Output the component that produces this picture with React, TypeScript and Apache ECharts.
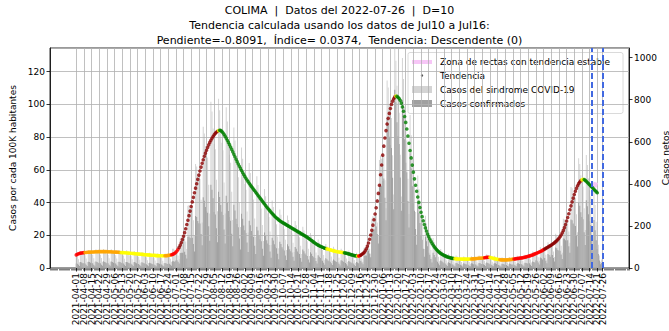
import { useEffect, useRef } from 'react';
import * as echarts from 'echarts';

const FONT = 'DejaVu Sans';
const START_UTC = Date.UTC(2021, 2, 8); // first category on the axis (24 days before 2021-04-01)
const DAYS_BEFORE = 24;
const N_CATEGORIES = 530;
const LAST_TICK_WEEKLY = 476;
const LAST_DAY = 481;

const TITLE_LINES = [
  'COLIMA  |  Datos del 2022-07-26  |  D=10',
  'Tendencia calculada usando los datos de Jul10 a Jul16:',
  'Pendiente=-0.8091,  Índice= 0.0374,  Tendencia: Descendente (0)',
];

const LEGEND_LABELS = [
  'Zona de rectas con tendencia estable',
  'Tendencia',
  'Casos del sindrome COVID-19',
  'Casos confirmados',
];

const LEFT_NAME = 'Casos por cada 100K habitantes';
const RIGHT_NAME = 'Casos netos';
const VLINE_DATES = ['2022-07-16', '2022-07-26'];

// Trend (cases per 100K), one value per day from 2021-04-01
const TREND = [
  8.0, 8.4, 8.7, 8.9, 9.1, 9.2, 9.3, 9.4, 9.5, 9.5,
  9.6, 9.6, 9.7, 9.7, 9.8, 9.8, 9.8, 9.9, 9.9, 9.9,
  10.0, 10.0, 10.0, 10.0, 10.0, 10.0, 10.0, 10.0, 10.0, 9.9,
  9.9, 9.9, 9.9, 9.8, 9.8, 9.8, 9.7, 9.7, 9.6, 9.6,
  9.5, 9.5, 9.4, 9.4, 9.3, 9.3, 9.2, 9.2, 9.1, 9.0,
  9.0, 8.9, 8.9, 8.8, 8.7, 8.7, 8.6, 8.5, 8.5, 8.4,
  8.3, 8.3, 8.2, 8.1, 8.1, 8.0, 8.0, 7.9, 7.9, 7.8,
  7.8, 7.7, 7.7, 7.6, 7.6, 7.6, 7.5, 7.5, 7.5, 7.5,
  7.5, 7.5, 7.6, 7.6, 7.7, 7.8, 7.9, 8.1, 8.3, 8.6,
  9.0, 9.6, 10.4, 11.4, 12.6, 14.0, 15.6, 17.4, 19.4, 21.6,
  24.0, 26.6, 29.2, 32.0, 34.8, 37.6, 40.4, 43.2, 46.0, 48.8,
  51.5, 54.2, 56.8, 59.3, 61.7, 64.0, 66.2, 68.3, 70.2, 72.0,
  73.7, 75.3, 76.8, 78.1, 79.3, 80.4, 81.4, 82.3, 83.0, 83.6,
  84.0, 84.2, 84.0, 83.5, 82.7, 81.7, 80.6, 79.4, 78.1, 76.8,
  75.4, 74.0, 72.5, 71.0, 69.5, 68.0, 66.5, 65.0, 63.6, 62.2,
  60.9, 59.6, 58.4, 57.2, 56.0, 54.9, 53.8, 52.8, 51.8, 50.8,
  49.9, 49.0, 48.1, 47.2, 46.3, 45.4, 44.5, 43.6, 42.7, 41.8,
  40.9, 40.0, 39.1, 38.2, 37.3, 36.5, 35.7, 34.9, 34.1, 33.3,
  32.6, 31.9, 31.2, 30.6, 30.0, 29.4, 28.9, 28.4, 28.0, 27.6,
  27.2, 26.8, 26.4, 26.0, 25.6, 25.2, 24.8, 24.4, 24.0, 23.6,
  23.2, 22.8, 22.4, 22.0, 21.6, 21.2, 20.8, 20.4, 20.0, 19.6,
  19.2, 18.8, 18.3, 17.8, 17.3, 16.8, 16.3, 15.8, 15.3, 14.8,
  14.4, 14.0, 13.6, 13.3, 13.0, 12.7, 12.4, 12.1, 11.9, 11.7,
  11.5, 11.3, 11.1, 10.9, 10.7, 10.5, 10.3, 10.2, 10.0, 9.9,
  9.8, 9.7, 9.6, 9.5, 9.4, 9.3, 9.1, 9.0, 8.8, 8.6,
  8.4, 8.2, 8.0, 7.8, 7.6, 7.5, 7.4, 7.3, 7.3, 7.5,
  7.9, 8.4, 8.9, 9.5, 10.5, 11.8, 13.4, 15.3, 17.6, 20.2,
  23.1, 26.2, 29.5, 33.0, 36.8, 41.0, 45.6, 50.6, 57.0, 63.0,
  69.0, 74.5, 79.5, 84.0, 88.0, 91.5, 94.5, 97.5, 100.0, 102.0,
  103.5, 104.6, 105.1, 104.9, 104.4, 103.6, 102.5, 100.8, 98.5, 95.8,
  92.6, 89.0, 85.0, 80.7, 76.3, 71.8, 67.3, 62.9, 58.6, 54.5,
  50.6, 46.9, 43.4, 40.1, 37.0, 34.1, 31.4, 28.9, 26.6, 24.5,
  22.6, 20.8, 19.2, 17.7, 16.4, 15.2, 14.1, 13.1, 12.2, 11.4,
  10.7, 10.0, 9.4, 8.9, 8.5, 8.1, 7.7, 7.4, 7.1, 6.8,
  6.6, 6.4, 6.2, 6.0, 5.9, 5.8, 5.7, 5.6, 5.6, 5.5,
  5.5, 5.5, 5.4, 5.4, 5.4, 5.4, 5.4, 5.4, 5.4, 5.5,
  5.5, 5.5, 5.6, 5.6, 5.7, 5.7, 5.8, 5.9, 6.0, 6.0,
  6.0, 6.1, 6.2, 6.3, 6.4, 6.5, 6.6, 6.6, 6.5, 6.3,
  6.1, 5.9, 5.7, 5.5, 5.4, 5.3, 5.2, 5.1, 5.0, 5.0,
  5.0, 5.0, 5.0, 5.0, 5.0, 5.1, 5.1, 5.2, 5.3, 5.4,
  5.5, 5.6, 5.7, 5.8, 5.9, 6.0, 6.1, 6.2, 6.3, 6.5,
  6.6, 6.8, 7.0, 7.2, 7.4, 7.6, 7.8, 8.0, 8.3, 8.6,
  8.9, 9.2, 9.5, 9.8, 10.1, 10.4, 10.8, 11.2, 11.6, 12.0,
  12.4, 12.8, 13.2, 13.6, 14.0, 14.5, 15.0, 15.5, 16.1, 16.7,
  17.4, 18.2, 19.1, 20.2, 21.5, 23.0, 24.7, 26.6, 28.7, 30.9,
  33.2, 35.6, 38.0, 40.4, 42.7, 44.9, 46.9, 48.7, 50.3, 51.6,
  52.6, 53.4, 53.9, 54.2, 54.1, 53.6, 53.0, 52.3, 51.6, 50.9,
  50.2, 49.5, 48.8, 48.1, 47.4, 46.7, 46.0,
];

// Trend colour by day ranges: [firstDay, lastDay, code]
const TREND_SEGMENTS: [number, number, string][] = [
  [0, 7, 'R'], [8, 40, 'O'], [41, 80, 'Y'], [81, 86, 'O'], [87, 93, 'R'],
  [94, 129, 'D'], [130, 130, 'Y'], [131, 228, 'G'], [229, 244, 'Y'], [245, 256, 'G'],
  [257, 257, 'Y'], [258, 259, 'R'], [260, 291, 'D'], [292, 292, 'Y'], [293, 345, 'G'],
  [346, 360, 'Y'], [361, 372, 'O'], [373, 377, 'R'], [378, 386, 'Y'], [387, 399, 'O'],
  [400, 427, 'R'], [428, 461, 'D'], [462, 463, 'Y'], [464, 476, 'G'],
];
const TREND_COLORS: Record<string, string> = {
  R: '#ff0000', D: '#8b0000', G: '#008000', Y: '#ffff00', O: '#ffa500',
};

// "Zona de rectas con tendencia estable": [day, value]
const STABLE_ZONE: [number, number][] = [[472, 51.3], [473, 51.1], [474, 50.9], [475, 50.7], [476, 50.5]];

// Daily syndrome cases (right axis), from 2021-04-01
const SYNDROME = [
  60, 57, 42, 27, 81, 75, 66,
  64, 61, 45, 29, 86, 80, 70,
  66, 63, 46, 30, 89, 82, 72,
  67, 63, 47, 30, 90, 84, 74,
  66, 62, 46, 30, 89, 82, 72,
  64, 61, 45, 29, 86, 80, 70,
  62, 59, 44, 28, 84, 78, 68,
  60, 57, 42, 27, 81, 75, 66,
  56, 53, 39, 25, 76, 70, 62,
  53, 51, 37, 24, 72, 66, 58,
  51, 48, 36, 23, 69, 64, 56,
  50, 48, 35, 23, 68, 63, 55,
  58, 57, 44, 30, 92, 92, 86,
  72, 74, 60, 42, 142, 146, 143,
  145, 154, 126, 90, 296, 300, 287,
  282, 288, 227, 155, 494, 483, 447,
  426, 423, 324, 216, 671, 640, 580,
  540, 525, 396, 259, 791, 744, 663,
  590, 565, 420, 270, 805, 750, 665,
  595, 560, 407, 259, 764, 696, 602,
  538, 501, 362, 228, 668, 606, 521,
  464, 431, 310, 195, 573, 520, 448,
  399, 372, 269, 169, 499, 452, 391,
  350, 326, 235, 148, 436, 395, 342,
  304, 283, 204, 128, 376, 341, 293,
  260, 242, 174, 109, 321, 290, 250,
  222, 208, 150, 94, 278, 253, 219,
  197, 184, 134, 85, 250, 228, 198,
  177, 165, 120, 76, 223, 203, 176,
  157, 146, 106, 67, 196, 178, 154,
  137, 127, 91, 57, 167, 150, 127,
  113, 104, 74, 46, 135, 121, 105,
  93, 86, 62, 39, 114, 104, 90,
  81, 75, 55, 34, 101, 91, 80,
  71, 67, 49, 31, 92, 84, 74,
  67, 61, 45, 28, 83, 75, 65,
  57, 53, 38, 24, 72, 65, 58,
  55, 56, 44, 30, 96, 99, 98,
  100, 109, 92, 68, 234, 246, 243,
  248, 262, 216, 154, 513, 535, 520,
  518, 531, 417, 284, 891, 858, 780,
  731, 713, 536, 349, 1060, 985, 866,
  783, 738, 538, 340, 998, 899, 765,
  668, 606, 424, 257, 728, 631, 519,
  440, 389, 266, 158, 440, 376, 306,
  256, 224, 152, 90, 248, 212, 172,
  144, 126, 86, 51, 143, 123, 101,
  86, 76, 53, 32, 90, 80, 67,
  58, 53, 37, 23, 68, 60, 52,
  44, 42, 31, 20, 59, 55, 48,
  41, 39, 29, 18, 55, 51, 45,
  42, 38, 28, 19, 56, 52, 44,
  44, 42, 31, 20, 59, 55, 48,
  48, 46, 34, 22, 65, 60, 53,
  45, 41, 30, 20, 58, 54, 47,
  38, 36, 27, 17, 51, 48, 42,
  37, 36, 26, 18, 52, 47, 41,
  43, 41, 30, 19, 58, 54, 47,
  47, 45, 33, 21, 63, 59, 52,
  58, 55, 41, 26, 78, 73, 64,
  73, 69, 51, 33, 99, 91, 80,
  90, 86, 63, 41, 122, 113, 99,
  105, 104, 79, 52, 163, 156, 144,
  137, 136, 106, 72, 234, 231, 220,
  215, 220, 174, 120, 385, 379, 352,
  337, 334, 256, 170, 522, 494, 441,
  404, 387, 284, 181, 537, 490, 426,
  370, 340, 230, 140, 380, 300, 220,
  150, 110, 60, 30, 40, 15,
];

// Daily confirmed cases (right axis), from 2021-04-01
const CONFIRMED = [
  21, 20, 15, 9, 28, 26, 23,
  22, 21, 16, 10, 30, 28, 25,
  23, 22, 16, 11, 31, 29, 25,
  23, 22, 16, 11, 32, 29, 26,
  23, 22, 16, 11, 31, 29, 25,
  22, 21, 16, 10, 30, 28, 25,
  22, 21, 15, 10, 29, 27, 24,
  21, 20, 15, 9, 28, 26, 23,
  20, 19, 14, 9, 27, 25, 22,
  19, 18, 13, 8, 25, 23, 20,
  18, 17, 13, 8, 24, 22, 20,
  18, 17, 12, 8, 24, 22, 19,
  20, 20, 15, 11, 32, 32, 30,
  36, 37, 30, 21, 71, 73, 72,
  73, 77, 63, 45, 148, 150, 144,
  141, 144, 114, 78, 247, 242, 224,
  213, 212, 162, 108, 336, 320, 290,
  270, 263, 198, 130, 396, 372, 332,
  266, 254, 189, 122, 362, 338, 299,
  268, 252, 183, 117, 344, 313, 271,
  242, 225, 163, 103, 301, 273, 234,
  209, 194, 140, 88, 258, 234, 202,
  180, 167, 121, 76, 225, 203, 176,
  158, 147, 106, 67, 196, 178, 154,
  137, 127, 92, 58, 169, 153, 132,
  117, 109, 78, 49, 144, 131, 113,
  100, 94, 68, 42, 125, 114, 99,
  89, 83, 60, 38, 113, 103, 89,
  80, 74, 54, 34, 100, 91, 79,
  71, 66, 48, 30, 88, 80, 69,
  62, 57, 41, 26, 75, 68, 57,
  51, 47, 33, 21, 61, 54, 47,
  37, 34, 25, 16, 46, 42, 36,
  32, 30, 22, 14, 40, 36, 32,
  28, 27, 20, 12, 37, 34, 30,
  27, 24, 18, 11, 33, 30, 26,
  23, 21, 15, 10, 29, 26, 23,
  33, 34, 26, 18, 58, 59, 59,
  75, 82, 69, 51, 176, 185, 182,
  186, 197, 162, 116, 385, 401, 390,
  414, 425, 334, 227, 713, 686, 624,
  585, 570, 429, 279, 848, 788, 693,
  626, 590, 430, 272, 798, 719, 612,
  501, 455, 318, 193, 546, 473, 389,
  308, 272, 186, 111, 308, 263, 214,
  154, 134, 91, 54, 149, 127, 103,
  72, 63, 43, 26, 72, 62, 51,
  34, 30, 21, 13, 36, 32, 27,
  23, 21, 15, 9, 27, 24, 21,
  18, 17, 12, 8, 24, 22, 19,
  16, 16, 12, 7, 22, 20, 18,
  17, 15, 11, 8, 22, 21, 18,
  18, 17, 12, 8, 24, 22, 19,
  19, 18, 14, 9, 26, 24, 21,
  18, 16, 12, 8, 23, 22, 19,
  15, 14, 11, 7, 20, 19, 17,
  15, 14, 10, 7, 21, 19, 16,
  17, 16, 12, 8, 23, 22, 19,
  19, 18, 13, 8, 25, 24, 21,
  23, 22, 16, 10, 31, 29, 26,
  37, 35, 26, 17, 50, 46, 40,
  50, 47, 35, 23, 67, 62, 54,
  63, 62, 47, 31, 98, 94, 86,
  82, 82, 64, 43, 140, 139, 132,
  129, 132, 104, 72, 231, 227, 211,
  202, 200, 154, 102, 313, 296, 265,
  242, 232, 170, 109, 322, 294, 256,
  222, 204, 138, 84, 228, 180, 132,
  90, 66, 36, 18, 24, 9,
];

function fmtDate(ms: number) {
  const d = new Date(ms);
  const m = String(d.getUTCMonth() + 1).padStart(2, '0');
  const day = String(d.getUTCDate()).padStart(2, '0');
  return `${d.getUTCFullYear()}-${m}-${day}`;
}

const CATEGORIES = Array.from({ length: N_CATEGORIES }, (_, i) => fmtDate(START_UTC + i * 86400000));

function isMajor(index: number) {
  const d = index - DAYS_BEFORE;
  return (d >= 0 && d <= LAST_TICK_WEEKLY && d % 7 === 0) || d === LAST_DAY;
}
// split the weekly labels over two axes so that none is dropped for overlapping
function isEvenLabel(index: number) {
  const d = index - DAYS_BEFORE;
  return d >= 0 && d <= LAST_TICK_WEEKLY && d % 14 === 0;
}
function isOddLabel(index: number) {
  return isMajor(index) && !isEvenLabel(index);
}

function trendColor(d: number) {
  for (const [a, b, c] of TREND_SEGMENTS) if (d >= a && d <= b) return TREND_COLORS[c];
  return '#008000';
}

export default function App() {
  const ref = useRef<HTMLDivElement>(null);
  useEffect(() => {
    if (!ref.current) return;
    const chart = echarts.init(ref.current, undefined, { renderer: 'svg' });
    const txt = { fontFamily: FONT, color: '#000' };
    const legendX = 408;
    const legendRowsY = [62, 75.5, 89.5, 103.5];
    const labelStyle = { show: true, rotate: 90, fontSize: 9, margin: 5, hideOverlap: false, ...txt };
    chart.setOption({
      animation: false,
      grid: { left: 50, right: 40, top: 48, bottom: 63, show: true, borderColor: '#000', borderWidth: 0.8, backgroundColor: 'transparent', outerBoundsMode: 'none', containLabel: false },
      xAxis: [
        {
          type: 'category', data: CATEGORIES, boundaryGap: false, position: 'bottom',
          axisLine: { show: true, lineStyle: { color: '#000', width: 0.8 } },
          axisTick: { show: true, interval: 0, length: 2.5, lineStyle: { color: '#000', width: 0.5 } },
          axisLabel: { show: false },
          splitLine: { show: false },
        },
        {
          type: 'category', data: CATEGORIES, boundaryGap: false, position: 'bottom', offset: 0, z: 3,
          axisLine: { show: false },
          axisTick: { show: true, interval: (i: number) => isMajor(i), length: 3.5, lineStyle: { color: '#000', width: 0.8 } },
          axisLabel: { ...labelStyle, interval: (i: number) => isEvenLabel(i) },
          splitLine: { show: true, interval: (i: number) => isMajor(i), lineStyle: { color: '#b0b0b0', width: 0.8 } },
        },
        {
          type: 'category', data: CATEGORIES, boundaryGap: false, position: 'bottom', offset: 0,
          axisLine: { show: false },
          axisTick: { show: false },
          axisLabel: { ...labelStyle, interval: (i: number) => isOddLabel(i) },
          splitLine: { show: false },
        },
      ],
      yAxis: [
        {
          type: 'value', min: 0, max: 134.5, interval: 20, position: 'left', z: 3,
          name: LEFT_NAME, nameLocation: 'middle', nameGap: 33, nameRotate: 90, nameMoveOverlap: false,
          nameTextStyle: { fontSize: 9, ...txt },
          axisLine: { show: true, lineStyle: { color: '#000', width: 0.8 } },
          axisTick: { show: true, length: 3.5, lineStyle: { color: '#000', width: 0.8 } },
          axisLabel: { fontSize: 9, margin: 5, showMaxLabel: false, formatter: (v: number) => (v % 20 === 0 ? String(v) : ''), ...txt },
          splitLine: { show: true, lineStyle: { color: '#b0b0b0', width: 0.8 } },
        },
        {
          type: 'value', min: 0, max: 1046, interval: 200, position: 'right',
          name: RIGHT_NAME, nameLocation: 'middle', nameGap: 32, nameRotate: 90, nameMoveOverlap: false,
          nameTextStyle: { fontSize: 9, ...txt },
          axisLine: { show: true, lineStyle: { color: '#000', width: 0.8 } },
          axisTick: { show: true, length: 3.5, lineStyle: { color: '#000', width: 0.8 } },
          axisLabel: { fontSize: 9, margin: 5, showMaxLabel: false, formatter: (v: number) => (v % 200 === 0 ? String(v) : ''), ...txt },
          splitLine: { show: false },
        },
      ],
      series: [
        {
          name: LEGEND_LABELS[2], type: 'bar', xAxisIndex: 0, yAxisIndex: 1, barWidth: 1, barGap: '-100%',
          itemStyle: { color: '#d4d4d4' },
          data: SYNDROME.map((v, d) => [d + DAYS_BEFORE, v]),
          markLine: {
            symbol: 'none', silent: true, label: { show: false }, z: 6,
            lineStyle: { color: '#4169e1', type: [6, 3], width: 2 },
            data: VLINE_DATES.map((x) => ({ xAxis: x })),
          },
        },
        {
          name: LEGEND_LABELS[3], type: 'bar', xAxisIndex: 0, yAxisIndex: 1, barWidth: 1, barGap: '-100%',
          itemStyle: { color: '#a0a0a0' },
          data: CONFIRMED.map((v, d) => [d + DAYS_BEFORE, v]),
        },
        {
          name: LEGEND_LABELS[0], type: 'line', xAxisIndex: 0, yAxisIndex: 0, showSymbol: false, z: 4,
          lineStyle: { color: '#f7c6f7', width: 5 },
          data: STABLE_ZONE.map(([d, v]) => [d + DAYS_BEFORE, v]),
        },
        {
          name: LEGEND_LABELS[1], type: 'scatter', xAxisIndex: 0, yAxisIndex: 0, symbolSize: 3.6,
          data: TREND.map((v, d) => ({ value: [d + DAYS_BEFORE, v], itemStyle: { color: trendColor(d) } })),
          z: 5,
        },
      ],
      graphic: [
        ...TITLE_LINES.map((t, k) => ({
          type: 'text', x: 339.5, y: 10 + k * 15, z: 10,
          style: { text: t, align: 'center', verticalAlign: 'middle', font: `11px "${FONT}"`, fill: '#000' },
        })),
        {
          type: 'group', z: 20,
          children: [
            { type: 'rect', shape: { x: legendX, y: 52.5, width: 215, height: 61, r: 2 }, style: { fill: 'rgba(255,255,255,0.8)', stroke: '#d0d0d0', lineWidth: 0.8 } },
            { type: 'line', shape: { x1: 412, y1: legendRowsY[0], x2: 432, y2: legendRowsY[0] }, style: { stroke: '#f7c6f7', lineWidth: 4 } },
            { type: 'circle', shape: { cx: 422, cy: legendRowsY[1], r: 1.2 }, style: { fill: '#555' } },
            { type: 'rect', shape: { x: 412, y: legendRowsY[2] - 3.5, width: 20, height: 7 }, style: { fill: '#d4d4d4' } },
            { type: 'rect', shape: { x: 412, y: legendRowsY[3] - 3.5, width: 20, height: 7 }, style: { fill: '#a0a0a0' } },
            ...LEGEND_LABELS.map((t, k) => ({
              type: 'text', x: 440, y: legendRowsY[k],
              style: { text: t, verticalAlign: 'middle', font: `9px "${FONT}"`, fill: '#000' },
            })),
          ],
        },
      ],
    });
    return () => chart.dispose();
  }, []);
  return <div ref={ref} style={{ position: 'absolute', left: 0, top: 0, width: 669, height: 331 }} />;
}
